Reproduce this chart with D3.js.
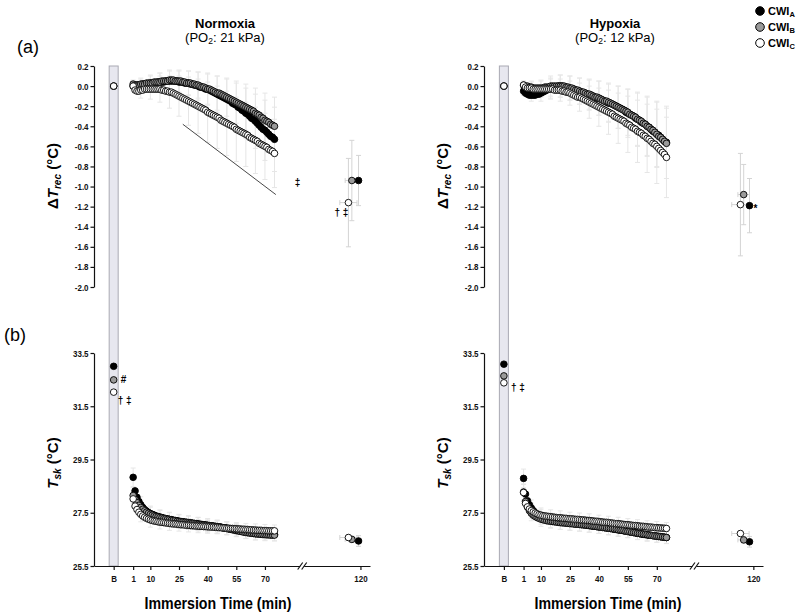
<!DOCTYPE html>
<html><head><meta charset="utf-8">
<script src="https://cdn.jsdelivr.net/npm/d3@7"></script>
<style>
body{margin:0;background:#fff;}
svg{display:block;font-family:"Liberation Sans",Arial,sans-serif;}
.ax .tick text{font-family:"Liberation Sans",Arial,sans-serif;font-weight:bold;font-size:9.5px;fill:#111;}
.ax path,.ax line{stroke:#111;stroke-width:1.2;}
</style></head><body>
<svg id="c" width="800" height="616"></svg>
<script>
// ---------- categories / ticks ----------
const conditions = ["Normoxia", "Hypoxia"];
const condPO2 = ["21", "12"];
const groups = ["A", "B", "C"];
const xTickLabels = ["B", "1", "10", "25", "40", "55", "70", "120"];
const xTickValues = [-9.2, 1, 10, 25, 40, 55, 70, 120];
const trecTicks = [0.2, 0, -0.2, -0.4, -0.6, -0.8, -1.0, -1.2, -1.4, -1.6, -1.8, -2.0];
const tskTicks = [25.5, 27.5, 29.5, 31.5, 33.5];
const immersionMinutes = [1,2,3,4,5,6,7,8,9,10,11,12,13,14,15,16,17,18,19,20,21,22,23,24,25,26,27,28,29,30,
 31,32,33,34,35,36,37,38,39,40,41,42,43,44,45,46,47,48,49,50,51,52,53,54,55,56,57,58,59,60,
 61,62,63,64,65,66,67,68,69,70,71,72,73,74,75];
const sdMinutes = [1,5,10,15,20,25,30,35,40,45,50,55,60,65,70,75];

// ---------- Normoxia ΔTrec ----------
const normTrecA = [0.00,0.00,0.01,0.01,0.01,0.02,0.02,0.02,0.02,0.03, 0.03,0.03,0.03,0.04,0.04,0.04,0.04,0.05,0.05,0.05,
 0.05,0.05,0.05,0.05,0.04,0.04,0.04,0.03,0.03,0.03, 0.02,0.02,0.01,0.01,0.00,-0.01,-0.01,-0.02,-0.03,-0.03,
 -0.04,-0.05,-0.06,-0.07,-0.08,-0.09,-0.10,-0.11,-0.12,-0.13, -0.14,-0.15,-0.17,-0.18,-0.19,-0.21,-0.22,-0.24,-0.25,-0.27,
 -0.28,-0.30,-0.32,-0.33,-0.35,-0.37,-0.39,-0.41,-0.43,-0.44, -0.46,-0.48,-0.50,-0.51,-0.53];
const normTrecB = [0.02,0.01,0.01,0.01,0.02,0.02,0.02,0.03,0.03,0.03, 0.03,0.04,0.04,0.04,0.04,0.05,0.05,0.05,0.05,0.06,
 0.06,0.06,0.05,0.05,0.05,0.05,0.04,0.04,0.03,0.03, 0.03,0.02,0.02,0.01,0.01,0.00,-0.01,-0.01,-0.02,-0.03,
 -0.03,-0.04,-0.05,-0.06,-0.07,-0.07,-0.08,-0.09,-0.10,-0.11, -0.12,-0.13,-0.14,-0.15,-0.16,-0.17,-0.18,-0.19,-0.20,-0.21,
 -0.22,-0.23,-0.24,-0.25,-0.27,-0.28,-0.29,-0.31,-0.32,-0.34, -0.35,-0.36,-0.38,-0.39,-0.40];
const normTrecC = [0.00,-0.04,-0.05,-0.05,-0.04,-0.04,-0.03,-0.03,-0.03,-0.03, -0.03,-0.03,-0.03,-0.03,-0.03,-0.04,-0.04,-0.05,-0.05,-0.06,
 -0.06,-0.07,-0.08,-0.09,-0.10,-0.11,-0.12,-0.13,-0.14,-0.15, -0.16,-0.17,-0.18,-0.19,-0.20,-0.21,-0.22,-0.23,-0.24,-0.26,
 -0.27,-0.28,-0.29,-0.30,-0.31,-0.32,-0.34,-0.35,-0.36,-0.37, -0.38,-0.39,-0.40,-0.41,-0.43,-0.44,-0.45,-0.46,-0.47,-0.48,
 -0.49,-0.51,-0.52,-0.53,-0.54,-0.55,-0.57,-0.58,-0.59,-0.60, -0.61,-0.63,-0.64,-0.65,-0.67];
const normTrecSdA = [0.04,0.06,0.08,0.09,0.10,0.11,0.12,0.14,0.16,0.18,0.20,0.22,0.25,0.27,0.30,0.32];
const normTrecSdB = [0.04,0.06,0.07,0.09,0.10,0.11,0.12,0.13,0.15,0.17,0.19,0.21,0.23,0.25,0.27,0.29];
const normTrecSdC = [0.05,0.08,0.10,0.13,0.16,0.20,0.24,0.27,0.30,0.31,0.32,0.32,0.32,0.33,0.33,0.34];
const normTrecBase = [0.0, 0.0, 0.0];
const normEndTime = [119, 115.5, 113.7];
const normEndTimeSd = [1.5, 3.5, 4.5];
const normTrecEnd = [-0.94, -0.94, -1.16];
const normTrecEndSd = [0.25, 0.40, 0.44];

// ---------- Hypoxia ΔTrec ----------
const hypTrecA = [-0.05,-0.07,-0.08,-0.09,-0.09,-0.09,-0.09,-0.08,-0.08,-0.07, -0.06,-0.05,-0.04,-0.03,-0.02,-0.02,-0.01,-0.01,0.00,0.00,
 0.00,-0.01,-0.01,-0.02,-0.02,-0.03,-0.03,-0.04,-0.05,-0.05, -0.06,-0.07,-0.07,-0.08,-0.09,-0.09,-0.10,-0.11,-0.12,-0.12,
 -0.13,-0.14,-0.15,-0.16,-0.17,-0.17,-0.18,-0.19,-0.20,-0.21, -0.22,-0.23,-0.24,-0.26,-0.27,-0.28,-0.29,-0.30,-0.32,-0.33,
 -0.34,-0.36,-0.37,-0.38,-0.40,-0.41,-0.43,-0.45,-0.46,-0.48, -0.49,-0.51,-0.53,-0.55,-0.56];
const hypTrecB = [0.01,0.00,0.00,-0.01,-0.01,-0.02,-0.02,-0.02,-0.02,-0.02, -0.02,-0.01,-0.01,-0.01,0.00,0.00,0.00,0.00,0.00,0.00,
 0.00,0.00,-0.01,-0.01,-0.02,-0.02,-0.03,-0.04,-0.04,-0.05, -0.06,-0.06,-0.07,-0.08,-0.08,-0.09,-0.10,-0.11,-0.11,-0.12,
 -0.13,-0.14,-0.15,-0.15,-0.16,-0.17,-0.18,-0.19,-0.20,-0.21, -0.22,-0.23,-0.24,-0.25,-0.26,-0.28,-0.29,-0.30,-0.31,-0.33,
 -0.34,-0.35,-0.37,-0.38,-0.40,-0.41,-0.43,-0.44,-0.46,-0.48, -0.50,-0.51,-0.53,-0.55,-0.57];
const hypTrecC = [0.01,-0.01,-0.02,-0.02,-0.02,-0.03,-0.03,-0.03,-0.03,-0.03, -0.03,-0.03,-0.03,-0.03,-0.03,-0.03,-0.04,-0.04,-0.04,-0.04,
 -0.05,-0.05,-0.06,-0.06,-0.07,-0.08,-0.09,-0.10,-0.11,-0.11, -0.12,-0.13,-0.14,-0.15,-0.16,-0.17,-0.18,-0.19,-0.20,-0.21,
 -0.22,-0.23,-0.24,-0.25,-0.26,-0.27,-0.28,-0.30,-0.31,-0.32, -0.33,-0.34,-0.35,-0.37,-0.38,-0.39,-0.41,-0.42,-0.43,-0.45,
 -0.46,-0.47,-0.49,-0.50,-0.52,-0.53,-0.55,-0.57,-0.58,-0.60, -0.62,-0.64,-0.66,-0.68,-0.71];
const hypTrecSdA = [0.04,0.06,0.08,0.10,0.11,0.12,0.13,0.15,0.17,0.19,0.21,0.24,0.27,0.30,0.33,0.36];
const hypTrecSdB = [0.04,0.06,0.08,0.10,0.11,0.12,0.13,0.15,0.17,0.19,0.21,0.23,0.26,0.29,0.32,0.35];
const hypTrecSdC = [0.04,0.06,0.08,0.10,0.11,0.12,0.14,0.16,0.19,0.22,0.25,0.28,0.31,0.34,0.37,0.40];
const hypTrecBase = [0.0, 0.0, 0.0];
const hypEndTime = [118, 115, 113.3];
const hypEndTimeSd = [1.5, 3, 4.5];
const hypTrecEnd = [-1.19, -1.08, -1.18];
const hypTrecEndSd = [0.27, 0.30, 0.51];

// ---------- Normoxia Tsk ----------
const normTskA = [28.83,28.32,28.08,27.92,27.80,27.70,27.62,27.56,27.51,27.47, 27.44,27.41,27.38,27.36,27.34,27.32,27.30,27.28,27.27,27.25,
 27.24,27.22,27.21,27.20,27.18,27.17,27.16,27.15,27.14,27.13, 27.12,27.11,27.10,27.09,27.08,27.07,27.06,27.05,27.04,27.03,
 27.02,27.01,27.00,26.99,26.98,26.97,26.96,26.94,26.93,26.92, 26.90,26.89,26.88,26.86,26.85,26.83,26.82,26.80,26.79,26.77,
 26.76,26.75,26.74,26.73,26.72,26.72,26.71,26.71,26.70,26.70, 26.69,26.69,26.68,26.68,26.68];
const normTskB = [28.15,28.00,27.88,27.78,27.70,27.63,27.57,27.52,27.48,27.44, 27.41,27.38,27.36,27.34,27.32,27.30,27.28,27.27,27.25,27.24,
 27.22,27.21,27.20,27.18,27.17,27.16,27.15,27.14,27.13,27.12, 27.11,27.10,27.09,27.08,27.07,27.06,27.05,27.04,27.03,27.02,
 27.01,27.00,26.99,26.98,26.97,26.96,26.95,26.93,26.92,26.91, 26.89,26.88,26.86,26.85,26.83,26.82,26.80,26.79,26.77,26.76,
 26.75,26.74,26.73,26.72,26.71,26.70,26.70,26.69,26.68,26.68, 26.67,26.67,26.66,26.66,26.66];
const normTskC = [28.02,27.75,27.62,27.52,27.44,27.38,27.33,27.29,27.26,27.23, 27.21,27.19,27.18,27.16,27.15,27.14,27.13,27.12,27.11,27.10,
 27.09,27.08,27.08,27.07,27.06,27.05,27.05,27.04,27.03,27.03, 27.02,27.01,27.01,27.00,27.00,26.99,26.99,26.98,26.98,26.97,
 26.97,26.96,26.96,26.95,26.95,26.94,26.94,26.93,26.93,26.92, 26.92,26.91,26.91,26.90,26.90,26.89,26.89,26.88,26.88,26.87,
 26.87,26.86,26.86,26.85,26.85,26.84,26.84,26.84,26.83,26.83, 26.83,26.82,26.82,26.82,26.82];
const normTskSdA = [0.35,0.30,0.28,0.27,0.27,0.26,0.26,0.25,0.25,0.25,0.24,0.24,0.24,0.24,0.23,0.23];
const normTskSdB = [0.30,0.28,0.27,0.26,0.26,0.25,0.25,0.25,0.24,0.24,0.24,0.23,0.23,0.23,0.23,0.22];
const normTskSdC = [0.30,0.28,0.27,0.26,0.26,0.25,0.25,0.25,0.24,0.24,0.24,0.23,0.23,0.23,0.23,0.22];
const normTskBase = [33.00, 32.49, 32.03];
const normTskEnd = [26.44, 26.50, 26.57];
const normTskEndSd = [0.20, 0.12, 0.10];

// ---------- Hypoxia Tsk ----------
const hypTskA = [28.79,28.20,27.95,27.80,27.68,27.58,27.50,27.44,27.39,27.35, 27.31,27.28,27.25,27.23,27.21,27.19,27.18,27.17,27.16,27.15,
 27.14,27.13,27.12,27.11,27.11,27.10,27.09,27.08,27.07,27.07, 27.06,27.05,27.04,27.03,27.02,27.01,27.00,26.99,26.98,26.97,
 26.96,26.95,26.94,26.93,26.92,26.91,26.90,26.88,26.87,26.86, 26.85,26.84,26.82,26.81,26.80,26.78,26.77,26.76,26.74,26.73,
 26.72,26.70,26.69,26.68,26.67,26.66,26.65,26.64,26.63,26.62, 26.61,26.60,26.59,26.58,26.57];
const hypTskB = [28.28,27.92,27.72,27.58,27.48,27.41,27.36,27.32,27.29,27.26, 27.24,27.22,27.20,27.19,27.18,27.17,27.16,27.15,27.14,27.13,
 27.12,27.12,27.11,27.10,27.09,27.09,27.08,27.07,27.07,27.06, 27.05,27.05,27.04,27.03,27.02,27.01,27.00,26.99,26.98,26.97,
 26.96,26.95,26.94,26.93,26.92,26.91,26.90,26.89,26.88,26.86, 26.85,26.84,26.83,26.81,26.80,26.79,26.77,26.76,26.75,26.73,
 26.72,26.71,26.70,26.69,26.68,26.66,26.65,26.64,26.63,26.62, 26.61,26.60,26.59,26.58,26.57];
const hypTskC = [28.26,27.85,27.72,27.64,27.58,27.53,27.49,27.46,27.43,27.41, 27.39,27.38,27.37,27.36,27.35,27.34,27.33,27.32,27.31,27.31,
 27.30,27.29,27.29,27.28,27.27,27.27,27.26,27.25,27.25,27.24, 27.23,27.23,27.22,27.21,27.21,27.20,27.19,27.18,27.18,27.17,
 27.16,27.15,27.14,27.14,27.13,27.12,27.11,27.10,27.09,27.09, 27.08,27.07,27.06,27.05,27.05,27.04,27.03,27.02,27.02,27.01,
 27.00,26.99,26.99,26.98,26.97,26.96,26.96,26.95,26.94,26.94, 26.93,26.93,26.92,26.92,26.91];
const hypTskSdA = [0.35,0.30,0.28,0.27,0.27,0.26,0.26,0.25,0.25,0.25,0.24,0.24,0.24,0.24,0.23,0.23];
const hypTskSdB = [0.30,0.28,0.27,0.26,0.26,0.25,0.25,0.25,0.24,0.24,0.24,0.23,0.23,0.23,0.23,0.22];
const hypTskSdC = [0.30,0.28,0.27,0.26,0.26,0.25,0.25,0.25,0.24,0.24,0.24,0.23,0.23,0.23,0.23,0.22];
const hypTskBase = [33.08, 32.64, 32.38];
const hypTskEnd = [26.41, 26.48, 26.72];
const hypTskEndSd = [0.20, 0.12, 0.10];

// ---------- assemble ----------
const panels = [
  { trec: [normTrecA, normTrecB, normTrecC], trecSd: [normTrecSdA, normTrecSdB, normTrecSdC], trecBase: normTrecBase,
    trecEnd: normTrecEnd, trecEndSd: normTrecEndSd,
    tsk: [normTskA, normTskB, normTskC], tskSd: [normTskSdA, normTskSdB, normTskSdC], tskBase: normTskBase,
    tskEnd: normTskEnd, tskEndSd: normTskEndSd, endT: normEndTime, endTSd: normEndTimeSd },
  { trec: [hypTrecA, hypTrecB, hypTrecC], trecSd: [hypTrecSdA, hypTrecSdB, hypTrecSdC], trecBase: hypTrecBase,
    trecEnd: hypTrecEnd, trecEndSd: hypTrecEndSd,
    tsk: [hypTskA, hypTskB, hypTskC], tskSd: [hypTskSdA, hypTskSdB, hypTskSdC], tskBase: hypTskBase,
    tskEnd: hypTskEnd, tskEndSd: hypTskEndSd, endT: hypEndTime, endTSd: hypEndTimeSd }
];

const svg = d3.select("#c");
const panelLeft = [94, 484], panelWidth = [276, 279];
const yTrec = d3.scaleLinear().domain([-2.0, 0.2]).range([287, 66]);
const yTsk = d3.scaleLinear().domain([25.5, 33.5]).range([566, 353]);
const fills = ["#000000", "#9a9a9a", "#ffffff"];
const R = 3.3;
const fogColor = "#e6e6e6";

function drawPanel(g, x, y, means, sds, base, endV, endSd, endT, endTSd) {
  const bx = x(xTickValues[0]);
  // fog of error bars
  means.forEach((m, s) => {
    sdMinutes.forEach((t, i) => {
      const v = m[immersionMinutes.indexOf(t)], sd = sds[s][i];
      const cx = x(t), y1 = y(v + sd), y2 = y(v - sd);
      g.append("line").attr("x1", cx).attr("x2", cx).attr("y1", y1).attr("y2", y2).attr("stroke", fogColor);
      [y1, y2].forEach(yy => g.append("line").attr("x1", cx - 2.5).attr("x2", cx + 2.5).attr("y1", yy).attr("y2", yy).attr("stroke", fogColor));
    });
  });
  // end-point error bars
  endV.forEach((v, s) => {
    const cx = x(endT[s]), cy = y(v);
    const y1 = y(v + endSd[s]), y2 = y(v - endSd[s]);
    const c = "#d4d4d4";
    g.append("line").attr("x1", cx).attr("x2", cx).attr("y1", y1).attr("y2", y2).attr("stroke", c);
    [y1, y2].forEach(yy => g.append("line").attr("x1", cx - 2.5).attr("x2", cx + 2.5).attr("y1", yy).attr("y2", yy).attr("stroke", c));
    const x1 = x(endT[s] - endTSd[s]), x2 = x(endT[s] + endTSd[s]);
    g.append("line").attr("x1", x1).attr("x2", x2).attr("y1", cy).attr("y2", cy).attr("stroke", c);
    [x1, x2].forEach(xx => g.append("line").attr("x1", xx).attr("x2", xx).attr("y1", cy - 2.5).attr("y2", cy + 2.5).attr("stroke", c));
  });
  // points
  means.forEach((m, s) => {
    const pts = [{ t: xTickValues[0], v: base[s], bx: true }]
      .concat(m.map((v, i) => ({ t: immersionMinutes[i], v })))
      .concat([{ t: endT[s], v: endV[s] }]);
    g.selectAll(null).data(pts).enter().append("circle")
      .attr("cx", d => d.bx ? bx : x(d.t)).attr("cy", d => y(d.v)).attr("r", R)
      .attr("fill", fills[s]).attr("stroke", "#000").attr("stroke-width", 0.9);
  });
}

conditions.forEach((cond, p) => {
  const P = panels[p];
  const g = svg.append("g").attr("transform", `translate(${panelLeft[p]},0)`);
  const x = d3.scaleLinear().domain([-19.5, 125]).range([0, panelWidth[p]]);
  const bx = x(xTickValues[0]);

  // baseline band
  g.append("rect").attr("x", bx - 4.5).attr("width", 9).attr("y", yTrec(0.2))
    .attr("height", yTsk(25.5) - yTrec(0.2)).attr("fill", "#e7e7ef").attr("stroke", "#a9a9b3").attr("stroke-width", 1);

  // axes
  const squeeze = sel => sel.selectAll(".tick text").attr("transform", "scale(0.84,1)");
  g.append("g").attr("class", "ax").call(d3.axisLeft(yTrec).tickValues(trecTicks).tickFormat(d => d.toFixed(1)).tickSize(3.5).tickSizeOuter(0).tickPadding(3)).call(squeeze);
  g.append("g").attr("class", "ax").call(d3.axisLeft(yTsk).tickValues(tskTicks).tickFormat(d => d.toFixed(1)).tickSize(3.5).tickSizeOuter(0).tickPadding(3)).call(squeeze);
  const xa = g.append("g").attr("class", "ax").attr("transform", `translate(0,${yTsk(25.5)})`)
    .call(d3.axisBottom(x).tickValues(xTickValues).tickFormat((d, i) => xTickLabels[i]).tickSize(4).tickSizeOuter(0).tickPadding(5)).call(squeeze);
  // axis break
  const brk = x(89.5);
  xa.append("rect").attr("x", brk - 2).attr("y", -2).attr("width", 4).attr("height", 4).attr("fill", "#fff");
  [-2, 2].forEach(o => xa.append("line").attr("x1", brk + o - 2.5).attr("x2", brk + o + 2.5).attr("y1", 3.5).attr("y2", -3.5)
    .attr("stroke", "#111").attr("stroke-width", 1.1));

  drawPanel(g, x, yTrec, P.trec, P.trecSd, P.trecBase, P.trecEnd, P.trecEndSd, P.endT, P.endTSd);
  drawPanel(g, x, yTsk, P.tsk, P.tskSd, P.tskBase, P.tskEnd, P.tskEndSd, P.endT, P.endTSd);

  // titles
  g.append("text").attr("x", 131).attr("y", 28).attr("text-anchor", "middle").attr("font-weight", "bold").attr("font-size", 13).text(cond);
  const st = g.append("text").attr("x", 131).attr("y", 42).attr("text-anchor", "middle").attr("font-size", 13);
  st.append("tspan").text("(PO");
  st.append("tspan").attr("font-size", 8.5).attr("dy", 2).text("2");
  st.append("tspan").attr("dy", -2).text(`: ${condPO2[p]} kPa)`);

  // y titles
  const t1 = g.append("text").attr("transform", `translate(-36,176) rotate(-90)`).attr("text-anchor", "middle")
    .attr("font-weight", "bold").attr("font-size", 15);
  t1.append("tspan").text("Δ");
  t1.append("tspan").attr("font-style", "italic").text("T");
  t1.append("tspan").attr("font-style", "italic").attr("font-size", 10).attr("dy", 3).text("rec");
  t1.append("tspan").attr("dy", -3).text(" (°C)");
  const t2 = g.append("text").attr("transform", `translate(-36,463) rotate(-90)`).attr("text-anchor", "middle")
    .attr("font-weight", "bold").attr("font-size", 15);
  t2.append("tspan").attr("font-style", "italic").text("T");
  t2.append("tspan").attr("font-style", "italic").attr("font-size", 10).attr("dy", 3).text("sk");
  t2.append("tspan").attr("dy", -3).text(" (°C)");

  // x title
  g.append("text").attr("x", 124).attr("y", 609).attr("text-anchor", "middle")
    .attr("font-weight", "bold").attr("font-size", 16).attr("textLength", 147).attr("lengthAdjust", "spacingAndGlyphs")
    .text("Immersion Time (min)");

  // annotations
  const ann = (xx, yy, txt, anchor) => g.append("text").attr("x", xx).attr("y", yy).attr("text-anchor", anchor || "start")
    .attr("font-family", "'Liberation Sans',Arial,sans-serif").attr("fill", "#000")
    .attr("font-weight", "bold").attr("font-size", 10).text(txt);
  if (p === 0) {
    g.append("line").attr("x1", x(27)).attr("y1", yTrec(-0.38)).attr("x2", x(75.7)).attr("y2", yTrec(-1.08))
      .attr("stroke", "#333").attr("stroke-width", 0.9);
    ann(x(87), yTrec(-0.955) + 4, "‡", "middle");
    ann(x(110), yTrec(-1.253) + 4, "† ‡", "middle");
    ann(bx + 7, yTsk(P.tskBase[1]) + 3.5, "#");
    ann(bx + 4, yTsk(P.tskBase[2]) + 12, "† ‡");
  } else {
    ann(x(P.endT[0]) + 4, yTrec(P.trecEnd[0]) + 6, "*");
    ann(bx + 7, yTsk(P.tskBase[2]) + 8, "† ‡");
  }
});

// panel letters
svg.append("text").attr("x", 17).attr("y", 53).attr("font-size", 18).text("(a)");
svg.append("text").attr("x", 4).attr("y", 341).attr("font-size", 18).text("(b)");

// legend
const lg = svg.append("g");
groups.forEach((gname, i) => {
  const cy = 11 + i * 16;
  lg.append("circle").attr("cx", 760).attr("cy", cy).attr("r", 4.3).attr("fill", fills[i]).attr("stroke", "#000").attr("stroke-width", 1);
  const t = lg.append("text").attr("x", 768).attr("y", cy + 4).attr("font-weight", "bold").attr("font-size", 11);
  t.append("tspan").text("CWI");
  t.append("tspan").attr("font-size", 7.5).attr("dy", 1.5).text(gname);
});
</script>
</body></html>
